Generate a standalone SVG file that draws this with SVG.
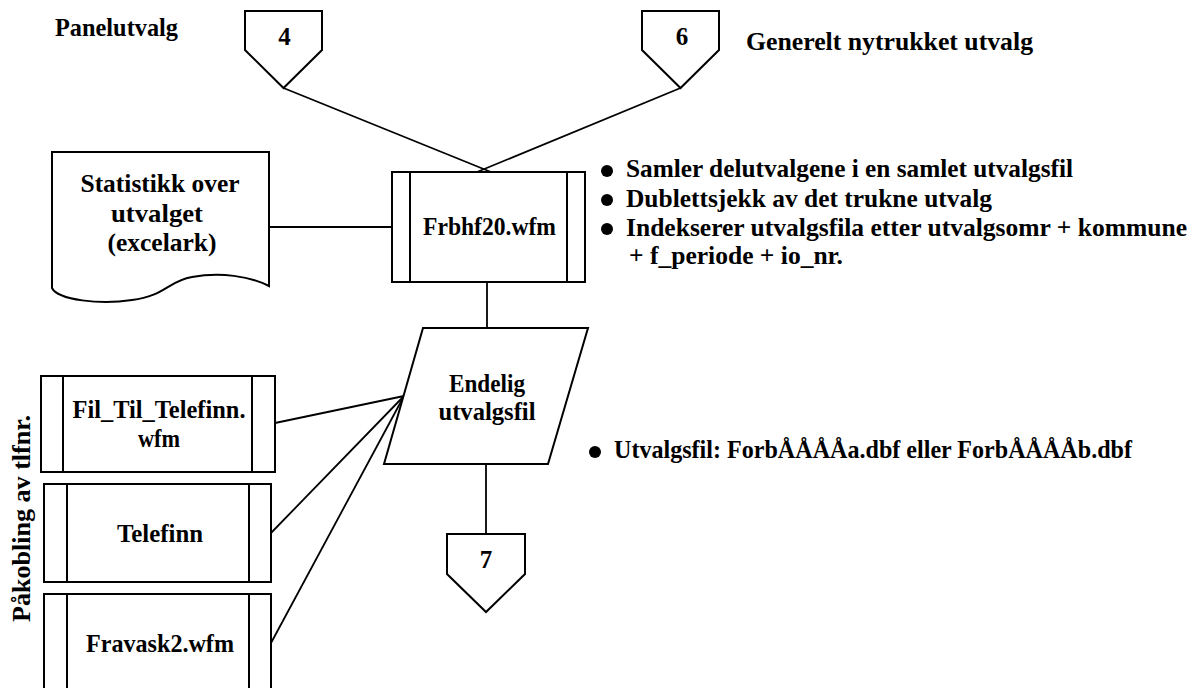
<svg xmlns="http://www.w3.org/2000/svg" width="1192" height="688" viewBox="0 0 1192 688">
  <style>
    .shape { fill: #ffffff; stroke: #000000; stroke-width: 2; }
    .bar { fill: none; stroke: #000000; stroke-width: 2; }
    .wire { fill: none; stroke: #000000; stroke-width: 1.8; }
    text { font-family: "Liberation Serif", "Times New Roman", serif; font-weight: bold; font-size: 25px; fill: #000000; }
    .mid { text-anchor: middle; }
    .dot { fill: #000000; }
  </style>

  <!-- connectors -->
  <g id="connectors">
    <line class="wire" x1="283.5" y1="88" x2="491" y2="172"/>
    <line class="wire" x1="680.5" y1="88" x2="477" y2="172"/>
    <line class="wire" x1="269" y1="227" x2="392" y2="227"/>
    <line class="wire" x1="487" y1="282" x2="487" y2="328"/>
    <line class="wire" x1="486" y1="464" x2="486" y2="534"/>
    <line class="wire" x1="404" y1="396" x2="275" y2="423"/>
    <line class="wire" x1="404" y1="396" x2="271" y2="533"/>
    <line class="wire" x1="404" y1="396" x2="271" y2="643"/>
  </g>

  <!-- off-page connector 4 -->
  <g id="page4">
    <polygon class="shape" points="245,11 322,11 322,50 283.5,88 245,50"/>
    <text class="mid" x="284.5" y="45">4</text>
  </g>

  <!-- off-page connector 6 -->
  <g id="page6">
    <polygon class="shape" points="642,11 719,11 719,50 680.5,88 642,50"/>
    <text class="mid" x="682" y="45">6</text>
  </g>

  <g id="label-panel">
    <text x="55" y="36" textLength="123" lengthAdjust="spacingAndGlyphs">Panelutvalg</text>
  </g>
  <g id="label-general">
    <text x="746" y="50" textLength="287" lengthAdjust="spacingAndGlyphs">Generelt nytrukket utvalg</text>
  </g>

  <!-- document: statistics sheet -->
  <g id="stats-doc">
    <path class="shape" d="M52,152 H269 V286 C250,276 220,272 192,277 C168,281 165,296 132,300 C100,305 58,300 52,288 Z"/>
    <text class="mid" x="160" y="192" textLength="159" lengthAdjust="spacingAndGlyphs">Statistikk over</text>
    <text class="mid" x="157" y="222" textLength="92" lengthAdjust="spacingAndGlyphs">utvalget</text>
    <text class="mid" x="162" y="251" textLength="109" lengthAdjust="spacingAndGlyphs">(excelark)</text>
  </g>

  <!-- predefined process Frbhf20 -->
  <g id="frbhf20">
    <rect class="shape" x="392" y="172" width="193" height="110"/>
    <line class="bar" x1="410" y1="172" x2="410" y2="282"/>
    <line class="bar" x1="567" y1="172" x2="567" y2="282"/>
    <text class="mid" x="489.5" y="235" textLength="133" lengthAdjust="spacingAndGlyphs">Frbhf20.wfm</text>
  </g>

  <!-- notes for Frbhf20 -->
  <g id="notes-frbhf20">
    <circle class="dot" cx="607" cy="171" r="6"/>
    <circle class="dot" cx="607" cy="200" r="6"/>
    <circle class="dot" cx="607" cy="229" r="6"/>
    <text x="626" y="177" textLength="447" lengthAdjust="spacingAndGlyphs">Samler delutvalgene i en samlet utvalgsfil</text>
    <text x="626" y="207" textLength="366" lengthAdjust="spacingAndGlyphs">Dublettsjekk av det trukne utvalg</text>
    <text x="626" y="236" textLength="561" lengthAdjust="spacingAndGlyphs">Indekserer utvalgsfila etter utvalgsomr + kommune</text>
    <text x="629" y="264" textLength="214" lengthAdjust="spacingAndGlyphs">+ f_periode + io_nr.</text>
  </g>

  <!-- data: final sample file -->
  <g id="final-file">
    <polygon class="shape" points="423,328 588,328 548,464 384,464"/>
    <text class="mid" x="487" y="392" textLength="76" lengthAdjust="spacingAndGlyphs">Endelig</text>
    <text class="mid" x="487" y="420" textLength="97" lengthAdjust="spacingAndGlyphs">utvalgsfil</text>
  </g>

  <g id="note-file">
    <circle class="dot" cx="595" cy="452" r="6"/>
    <text x="614" y="458" textLength="518" lengthAdjust="spacingAndGlyphs">Utvalgsfil: ForbÅÅÅÅa.dbf eller ForbÅÅÅÅb.dbf</text>
  </g>

  <!-- off-page connector 7 -->
  <g id="page7">
    <polygon class="shape" points="447,534 525,534 525,574 486,612 447,574"/>
    <text class="mid" x="486" y="568">7</text>
  </g>

  <!-- phone number lookup steps -->
  <g id="fil-til-telefinn">
    <rect class="shape" x="41" y="376" width="234" height="96"/>
    <line class="bar" x1="63" y1="376" x2="63" y2="472"/>
    <line class="bar" x1="252" y1="376" x2="252" y2="472"/>
    <text class="mid" x="159" y="418" textLength="173" lengthAdjust="spacingAndGlyphs">Fil_Til_Telefinn.</text>
    <text class="mid" x="159" y="447" textLength="42" lengthAdjust="spacingAndGlyphs">wfm</text>
  </g>

  <g id="telefinn">
    <rect class="shape" x="44" y="484" width="227" height="98"/>
    <line class="bar" x1="67" y1="484" x2="67" y2="582"/>
    <line class="bar" x1="249" y1="484" x2="249" y2="582"/>
    <text class="mid" x="160" y="542" textLength="86" lengthAdjust="spacingAndGlyphs">Telefinn</text>
  </g>

  <g id="fravask2">
    <rect class="shape" x="44" y="594" width="227" height="110"/>
    <line class="bar" x1="67" y1="594" x2="67" y2="704"/>
    <line class="bar" x1="249" y1="594" x2="249" y2="704"/>
    <text class="mid" x="160" y="652" textLength="148" lengthAdjust="spacingAndGlyphs">Fravask2.wfm</text>
  </g>

  <g id="label-lookup">
    <text class="mid" transform="translate(30,518.5) rotate(-90)" x="0" y="0" textLength="207" lengthAdjust="spacingAndGlyphs">Påkobling av tlfnr.</text>
  </g>
</svg>
